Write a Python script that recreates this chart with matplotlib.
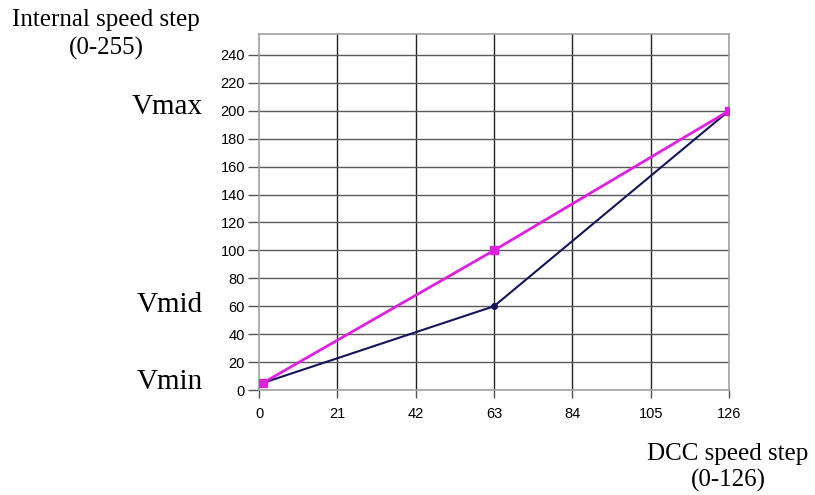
from matplotlib import pyplot as plt

# DCC speed curve data
dcc_steps = [1, 63, 126]
linear_speed = [5, 100, 200]
curve_speed = [5, 60, 200]
x_ticks = [0, 21, 42, 63, 84, 105, 126]
y_ticks = list(range(0, 241, 20))

serif = ['Liberation Serif', 'DejaVu Serif']
sans = ['Liberation Sans', 'DejaVu Sans']

fig = plt.figure(figsize=(8.15, 4.95), dpi=100)
ax = fig.add_axes([259 / 815, 105 / 495, 470 / 815, 356 / 495])

ax.set_xlim(0, 126)
ax.set_ylim(0, 255)
ax.set_xticks(x_ticks)
ax.set_yticks(y_ticks)

for x in x_ticks[1:-1]:
    ax.axvline(x, color='#222222', linewidth=1.0, zorder=1)
for y in y_ticks[1:]:
    ax.axhline(y, color='#5a5a5a', linewidth=1.0, zorder=1)

for spine in ax.spines.values():
    spine.set_color('#a0a0a0')
    spine.set_linewidth(1.2)

ax.tick_params(axis='y', length=8, width=1, color='#555555', pad=2, labelsize=10.5)
ax.tick_params(axis='x', length=6, width=1, color='#555555', pad=6, labelsize=10.5)
for lab in ax.get_xticklabels() + ax.get_yticklabels():
    lab.set_family(sans)

ax.plot(dcc_steps, curve_speed, color='#14145a', linewidth=1.5,
        marker='o', markersize=4, zorder=3)
ax.plot(dcc_steps, linear_speed, color='#e020e0', linewidth=2,
        marker='s', markersize=6, zorder=4)

# annotations in figure pixels
def label(x, y, s, size, ha='center'):
    fig.text(x / 815, 1 - y / 495, s, fontsize=size, family=serif,
             ha=ha, va='center')

label(106, 20, 'Internal speed step', 18)
label(106, 48, '(0-255)', 18)
label(203, 107, 'Vmax', 21, ha='right')
label(203, 305, 'Vmid', 21, ha='right')
label(203, 382, 'Vmin', 21, ha='right')
label(728, 454, 'DCC speed step', 18)
label(728, 480, '(0-126)', 18)

fig.savefig('out.png', dpi=100)
